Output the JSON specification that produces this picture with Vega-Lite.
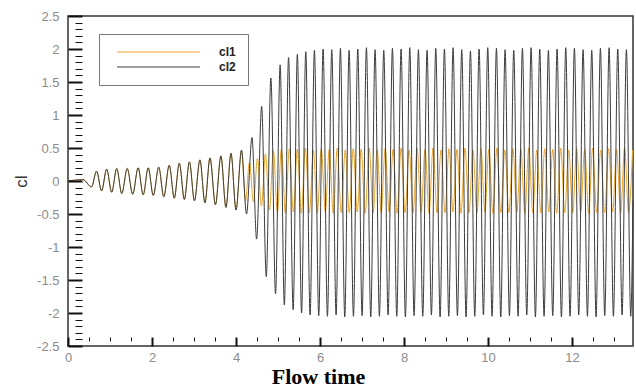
{
"$schema": "https://vega.github.io/schema/vega-lite/v6.json",
"width": 565, "height": 330,
"autosize": {"type": "none"},
"padding": {"left": 68, "top": 16, "right": 3, "bottom": 41},
"background": "white",
"config": {"view": {"stroke": "#333", "strokeWidth": 1.5, "fill": null}, "font": "Liberation Sans"},
"datasets": {
"cl2": [{"t":0,"cl":0},{"t":0.36,"cl":0.02},{"t":0.56,"cl":-0.09},{"t":0.68,"cl":0.15},{"t":0.8,"cl":-0.15},{"t":0.92,"cl":0.18},{"t":1.04,"cl":-0.17},{"t":1.16,"cl":0.19},{"t":1.28,"cl":-0.19},{"t":1.41,"cl":0.19},{"t":1.54,"cl":-0.2},{"t":1.67,"cl":0.2},{"t":1.79,"cl":-0.21},{"t":1.91,"cl":0.2},{"t":2.03,"cl":-0.22},{"t":2.16,"cl":0.21},{"t":2.28,"cl":-0.24},{"t":2.41,"cl":0.24},{"t":2.53,"cl":-0.26},{"t":2.65,"cl":0.27},{"t":2.77,"cl":-0.28},{"t":2.89,"cl":0.29},{"t":3.01,"cl":-0.3},{"t":3.14,"cl":0.32},{"t":3.26,"cl":-0.33},{"t":3.38,"cl":0.35},{"t":3.51,"cl":-0.36},{"t":3.64,"cl":0.38},{"t":3.76,"cl":-0.4},{"t":3.88,"cl":0.42},{"t":4.0,"cl":-0.44},{"t":4.13,"cl":0.47},{"t":4.25,"cl":-0.5},{"t":4.38,"cl":0.66},{"t":4.49,"cl":-0.88},{"t":4.61,"cl":1.13},{"t":4.72,"cl":-1.45},{"t":4.83,"cl":1.56},{"t":4.94,"cl":-1.71},{"t":5.05,"cl":1.76},{"t":5.15,"cl":-1.88},{"t":5.25,"cl":1.87},{"t":5.36,"cl":-1.95},{"t":5.46,"cl":1.92},{"t":5.56,"cl":-2.0},{"t":5.66,"cl":1.96},{"t":5.763,"cl":-2.03},
{"t":5.866,"cl":1.98},{"t":5.969,"cl":-2.04},{"t":6.073,"cl":2.0},{"t":6.176,"cl":-2.05},{"t":6.279,"cl":1.99},{"t":6.382,"cl":-2.03},{"t":6.485,"cl":2.01},{"t":6.588,"cl":-2.06},{"t":6.692,"cl":1.98},{"t":6.795,"cl":-2.05},{"t":6.898,"cl":2.0},{"t":7.001,"cl":-2.04},{"t":7.104,"cl":2.02},{"t":7.207,"cl":-2.06},{"t":7.31,"cl":1.99},{"t":7.413,"cl":-2.05},{"t":7.517,"cl":1.98},{"t":7.62,"cl":-2.03},{"t":7.723,"cl":2.01},{"t":7.826,"cl":-2.05},{"t":7.929,"cl":2.0},{"t":8.032,"cl":-2.06},{"t":8.136,"cl":2.02},{"t":8.239,"cl":-2.04},{"t":8.342,"cl":1.99},{"t":8.445,"cl":-2.05},{"t":8.548,"cl":1.98},{"t":8.651,"cl":-2.03},{"t":8.755,"cl":2.01},{"t":8.858,"cl":-2.06},{"t":8.961,"cl":2.0},{"t":9.064,"cl":-2.05},{"t":9.167,"cl":2.02},{"t":9.27,"cl":-2.04},{"t":9.373,"cl":1.99},{"t":9.476,"cl":-2.06},{"t":9.58,"cl":1.97},{"t":9.683,"cl":-2.05},{"t":9.786,"cl":2.0},{"t":9.889,"cl":-2.03},{"t":9.992,"cl":2.02},{"t":10.095,"cl":-2.05},{"t":10.199,"cl":2.01},{"t":10.302,"cl":-2.06},{"t":10.405,"cl":1.99},{"t":10.508,"cl":-2.04},{"t":10.611,"cl":1.98},{"t":10.714,"cl":-2.05},{"t":10.818,"cl":2.01},{"t":10.921,"cl":-2.03},{"t":11.024,"cl":2.02},{"t":11.127,"cl":-2.06},{"t":11.23,"cl":2.0},{"t":11.333,"cl":-2.05},{"t":11.436,"cl":1.98},{"t":11.539,"cl":-2.04},{"t":11.643,"cl":2.0},{"t":11.746,"cl":-2.06},{"t":11.849,"cl":2.02},{"t":11.952,"cl":-2.05},{"t":12.055,"cl":2.01},{"t":12.158,"cl":-2.03},{"t":12.262,"cl":1.99},{"t":12.365,"cl":-2.05},{"t":12.468,"cl":1.98},{"t":12.571,"cl":-2.06},{"t":12.674,"cl":2.01},{"t":12.777,"cl":-2.04},{"t":12.881,"cl":2.02},{"t":12.984,"cl":-2.05},{"t":13.087,"cl":2.0},{"t":13.19,"cl":-2.03},{"t":13.293,"cl":1.99},{"t":13.396,"cl":-2.05},{"t":13.45,"cl":-0.3}],
"cl1": [{"t":0,"cl":0},{"t":0.36,"cl":0.02},{"t":0.56,"cl":-0.09},{"t":0.68,"cl":0.15},{"t":0.8,"cl":-0.15},{"t":0.92,"cl":0.18},{"t":1.04,"cl":-0.17},{"t":1.16,"cl":0.19},{"t":1.28,"cl":-0.19},{"t":1.41,"cl":0.19},{"t":1.54,"cl":-0.2},{"t":1.67,"cl":0.2},{"t":1.79,"cl":-0.21},{"t":1.91,"cl":0.2},{"t":2.03,"cl":-0.22},{"t":2.16,"cl":0.21},{"t":2.28,"cl":-0.24},{"t":2.41,"cl":0.24},{"t":2.53,"cl":-0.26},{"t":2.65,"cl":0.27},{"t":2.77,"cl":-0.28},{"t":2.89,"cl":0.29},{"t":3.01,"cl":-0.3},{"t":3.14,"cl":0.32},{"t":3.26,"cl":-0.33},{"t":3.38,"cl":0.35},{"t":3.51,"cl":-0.36},{"t":3.64,"cl":0.38},{"t":3.76,"cl":-0.4},{"t":3.88,"cl":0.42},{"t":4.0,"cl":-0.44},
{"t":4.13,"cl":0.46},{"t":4.225,"cl":-0.3},{"t":4.32,"cl":0.28},{"t":4.415,"cl":-0.32},{"t":4.51,"cl":0.34},{"t":4.605,"cl":-0.38},{"t":4.7,"cl":0.41},{"t":4.795,"cl":-0.44},{"t":4.89,"cl":0.46},{"t":4.985,"cl":-0.47},{"t":5.08,"cl":0.48},{"t":5.175,"cl":-0.48},{"t":5.27,"cl":0.49},{"t":5.365,"cl":-0.47},{"t":5.46,"cl":0.48},{"t":5.555,"cl":-0.49},{"t":5.65,"cl":0.5},{"t":5.745,"cl":-0.48},{"t":5.84,"cl":0.47},{"t":5.935,"cl":-0.48},{"t":6.03,"cl":0.49},{"t":6.125,"cl":-0.47},{"t":6.22,"cl":0.48},{"t":6.315,"cl":-0.49},{"t":6.41,"cl":0.5},{"t":6.505,"cl":-0.48},{"t":6.6,"cl":0.47},{"t":6.695,"cl":-0.48},{"t":6.79,"cl":0.49},{"t":6.885,"cl":-0.47},{"t":6.98,"cl":0.48},{"t":7.075,"cl":-0.49},{"t":7.17,"cl":0.5},{"t":7.265,"cl":-0.48},{"t":7.36,"cl":0.47},{"t":7.455,"cl":-0.48},{"t":7.55,"cl":0.49},{"t":7.645,"cl":-0.47},{"t":7.74,"cl":0.48},{"t":7.835,"cl":-0.49},{"t":7.93,"cl":0.5},{"t":8.025,"cl":-0.48},{"t":8.12,"cl":0.47},{"t":8.215,"cl":-0.48},{"t":8.31,"cl":0.49},{"t":8.405,"cl":-0.47},{"t":8.5,"cl":0.48},{"t":8.595,"cl":-0.49},{"t":8.69,"cl":0.5},{"t":8.785,"cl":-0.48},{"t":8.88,"cl":0.47},{"t":8.975,"cl":-0.48},{"t":9.07,"cl":0.49},{"t":9.165,"cl":-0.47},{"t":9.26,"cl":0.48},{"t":9.355,"cl":-0.49},{"t":9.45,"cl":0.5},{"t":9.545,"cl":-0.48},{"t":9.64,"cl":0.47},{"t":9.735,"cl":-0.48},{"t":9.83,"cl":0.49},{"t":9.925,"cl":-0.47},{"t":10.02,"cl":0.48},{"t":10.115,"cl":-0.49},{"t":10.21,"cl":0.5},{"t":10.305,"cl":-0.48},{"t":10.4,"cl":0.47},{"t":10.495,"cl":-0.48},{"t":10.59,"cl":0.49},{"t":10.685,"cl":-0.47},{"t":10.78,"cl":0.48},{"t":10.875,"cl":-0.49},{"t":10.97,"cl":0.5},{"t":11.065,"cl":-0.48},{"t":11.16,"cl":0.47},{"t":11.255,"cl":-0.48},{"t":11.35,"cl":0.49},{"t":11.445,"cl":-0.47},{"t":11.54,"cl":0.48},{"t":11.635,"cl":-0.49},{"t":11.73,"cl":0.5},{"t":11.825,"cl":-0.48},{"t":11.92,"cl":0.47},{"t":12.015,"cl":-0.48},{"t":12.11,"cl":0.49},{"t":12.205,"cl":-0.47},{"t":12.3,"cl":0.48},{"t":12.395,"cl":-0.49},{"t":12.49,"cl":0.5},{"t":12.585,"cl":-0.48},{"t":12.68,"cl":0.47},{"t":12.775,"cl":-0.48},{"t":12.87,"cl":0.49},{"t":12.965,"cl":-0.47},{"t":13.06,"cl":0.48},{"t":13.155,"cl":-0.49},{"t":13.25,"cl":0.5},{"t":13.345,"cl":-0.48},{"t":13.44,"cl":0.47}]
},
"encoding": {
  "x": {"field": "t", "type": "quantitative",
    "scale": {"domain": [0, 13.45], "nice": false, "zero": false},
    "axis": {"orient": "bottom", "offset": -9, "zindex": 2, "title": "Flow time", "domain": false, "grid": false,
      "values": [0,0.5,1,1.5,2,2.5,3,3.5,4,4.5,5,5.5,6,6.5,7,7.5,8,8.5,9,9.5,10,10.5,11,11.5,12,12.5,13],
      "labelExpr": "round(datum.value*2) % 4 == 0 ? '' + datum.value : ''",
      "tickSize": {"condition": {"test": "round(datum.value*2) % 4 != 0", "value": 4}, "value": 9},
      "tickColor": "#111",
      "tickWidth": {"condition": {"test": "round(datum.value*2) % 4 != 0", "value": 1}, "value": 2},
      "labelColor": "#8c8c8c", "labelFontSize": 13, "labelPadding": 5, "labelFlush": false,
      "titleFont": "Liberation Serif", "titleFontSize": 22, "titleFontWeight": "bold", "titleColor": "#000",
      "titleX": 250, "titleY": 46, "titleBaseline": "alphabetic", "titleAlign": "center"}},
  "y": {"field": "cl", "type": "quantitative",
    "scale": {"domain": [-2.5, 2.5], "nice": false, "zero": false},
    "axis": {"orient": "left", "offset": -14, "zindex": 2, "title": "cl", "domain": false, "grid": false,
      "values": [-2.5,-2.4,-2.3,-2.2,-2.1,-2,-1.9,-1.8,-1.7,-1.6,-1.5,-1.4,-1.3,-1.2,-1.1,-1,-0.9,-0.8,-0.7,-0.6,-0.5,-0.4,-0.3,-0.2,-0.1,0,0.1,0.2,0.3,0.4,0.5,0.6,0.7,0.8,0.9,1,1.1,1.2,1.3,1.4,1.5,1.6,1.7,1.8,1.9,2,2.1,2.2,2.3,2.4,2.5],
      "labelExpr": "abs(round(datum.value*10)) % 5 == 0 ? '' + datum.value : ''",
      "tickSize": {"condition": {"test": "abs(round(datum.value*10)) % 5 != 0", "value": 7}, "value": 14},
      "tickColor": "#111",
      "tickWidth": {"condition": {"test": "abs(round(datum.value*10)) % 5 != 0", "value": 1}, "value": 2},
      "labelColor": "#8c8c8c", "labelFontSize": 13, "labelPadding": 9, "labelFlush": false,
      "titleFont": "Liberation Sans", "titleFontSize": 17, "titleFontWeight": "normal", "titleColor": "#333",
      "titleX": -56, "titleY": 165, "titleAngle": -90, "titleBaseline": "alphabetic", "titleAlign": "center"}}
},
"layer": [
  {"data": {"name": "cl1"},
   "mark": {"type": "line", "interpolate": "monotone", "strokeWidth": 1},
   "encoding": {
     "color": {"datum": "cl1", "type": "nominal",
      "scale": {"domain": ["cl1", "cl2"], "range": ["#e8a62a", "#3c3c3c"]},
      "legend": {"orient": "none", "legendX": 31, "legendY": 18, "title": null,
        "symbolType": "M0,0H16.6", "symbolSize": 100, "symbolStrokeWidth": 1,
        "strokeColor": "#777", "fillColor": "white", "padding": 12, "rowPadding": 3,
        "labelFont": "Liberation Sans", "labelFontSize": 12, "labelFontWeight": "bold", "labelColor": "#222", "labelOffset": 96}}}},
  {"data": {"name": "cl2"},
   "mark": {"type": "line", "interpolate": "monotone", "strokeWidth": 1},
   "encoding": {"color": {"datum": "cl2", "type": "nominal"}}}
]
}
